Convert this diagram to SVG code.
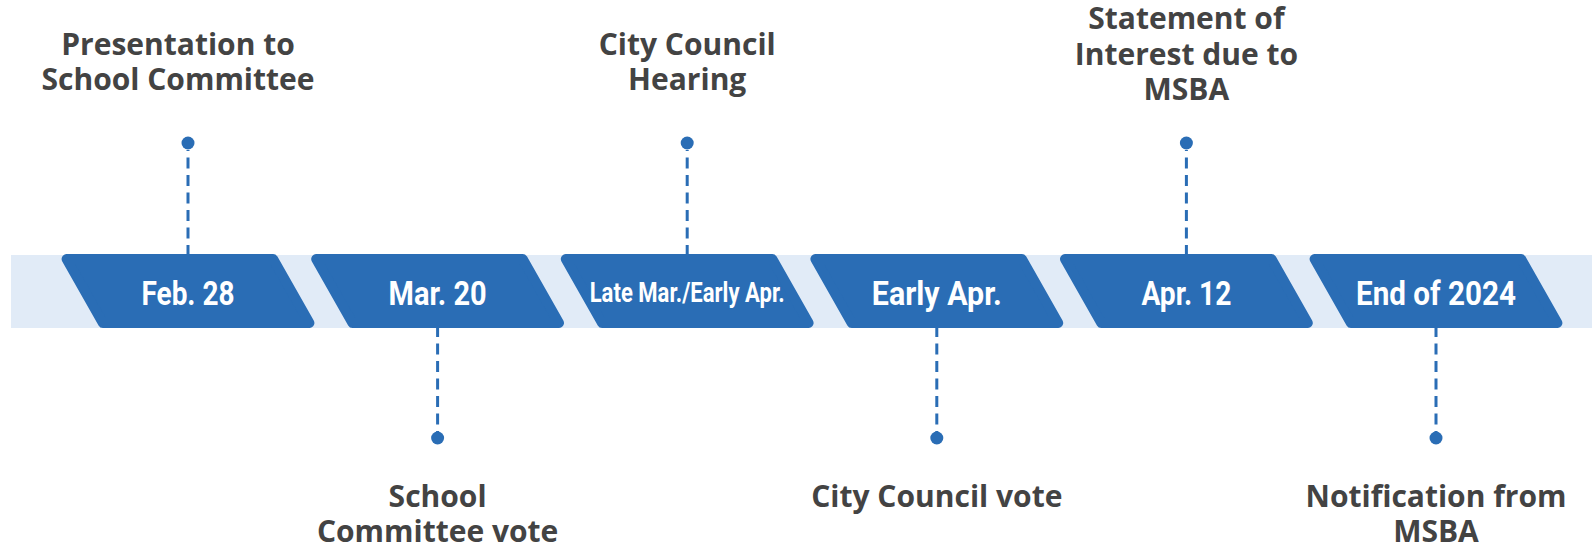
<svg xmlns="http://www.w3.org/2000/svg" xmlns:xlink="http://www.w3.org/1999/xlink" width="1592" height="547" viewBox="0 0 1592 547">
  <style>
    .band { fill: #E1EBF7; }
    .date { font-family: Roboto, "Liberation Sans", sans-serif; font-weight: 700; fill: #FFFFFF; text-anchor: middle; }
    .big { font-size: 34px; }
    .small { font-size: 27px; }
    .label { font-family: "Open Sans", "Liberation Sans", sans-serif; font-weight: 700; font-size: 30px; fill: #434343; text-anchor: middle; }
    .dash { stroke: #2A6DB5; stroke-width: 3; stroke-dasharray: 11 6.5; fill: none; }
    .dot { fill: #2A6DB5; }
  </style>
  <defs>
    <polygon id="tag" points="-121.4,259 85.1,259 121.4,323 -85.1,323" fill="#2A6DB5" stroke="#2A6DB5" stroke-width="10" stroke-linejoin="round"/>
  </defs>

  <rect class="band" x="11" y="255" width="1581" height="73"/>

  <g id="connectors">
    <line class="dash" x1="188" y1="256" x2="188" y2="150"/>
    <line class="dash" x1="437.6" y1="326" x2="437.6" y2="432"/>
    <line class="dash" x1="687.2" y1="256" x2="687.2" y2="150"/>
    <line class="dash" x1="936.8" y1="326" x2="936.8" y2="432"/>
    <line class="dash" x1="1186.4" y1="256" x2="1186.4" y2="150"/>
    <line class="dash" x1="1436" y1="326" x2="1436" y2="432"/>
  </g>

  <g id="node-feb28">
    <use xlink:href="#tag" x="188"/>
    <text class="date big" x="188" y="304.5" textLength="93" lengthAdjust="spacingAndGlyphs">Feb. 28</text>
    <circle class="dot" cx="188" cy="143" r="6.5"/>
    <text class="label" x="178" y="55">Presentation to</text>
    <text class="label" x="178" y="90">School Committee</text>
  </g>

  <g id="node-mar20">
    <use xlink:href="#tag" x="437.6"/>
    <text class="date big" x="437.6" y="304.5" textLength="98" lengthAdjust="spacingAndGlyphs">Mar. 20</text>
    <circle class="dot" cx="437.6" cy="438" r="6.5"/>
    <text class="label" x="437.6" y="507">School</text>
    <text class="label" x="437.6" y="542">Committee vote</text>
  </g>

  <g id="node-latemar">
    <use xlink:href="#tag" x="687.2"/>
    <text class="date small" x="687.2" y="302" textLength="195" lengthAdjust="spacingAndGlyphs">Late Mar./Early Apr.</text>
    <circle class="dot" cx="687.2" cy="143" r="6.5"/>
    <text class="label" x="687.2" y="55">City Council</text>
    <text class="label" x="687.2" y="89.5">Hearing</text>
  </g>

  <g id="node-earlyapr">
    <use xlink:href="#tag" x="936.8"/>
    <text class="date big" x="936.8" y="304.5" textLength="130" lengthAdjust="spacingAndGlyphs">Early Apr.</text>
    <circle class="dot" cx="936.8" cy="438" r="6.5"/>
    <text class="label" x="936.8" y="507">City Council vote</text>
  </g>

  <g id="node-apr12">
    <use xlink:href="#tag" x="1186.4"/>
    <text class="date big" x="1186.4" y="304.5" textLength="90" lengthAdjust="spacingAndGlyphs">Apr. 12</text>
    <circle class="dot" cx="1186.4" cy="143" r="6.5"/>
    <text class="label" x="1186.4" y="28.5">Statement of</text>
    <text class="label" x="1186.4" y="64.5">Interest due to</text>
    <text class="label" x="1186.4" y="100">MSBA</text>
  </g>

  <g id="node-end2024">
    <use xlink:href="#tag" x="1436"/>
    <text class="date big" x="1436" y="304.5" textLength="160" lengthAdjust="spacingAndGlyphs">End of 2024</text>
    <circle class="dot" cx="1436" cy="438" r="6.5"/>
    <text class="label" x="1436" y="507">Notification from</text>
    <text class="label" x="1436" y="542">MSBA</text>
  </g>
</svg>
